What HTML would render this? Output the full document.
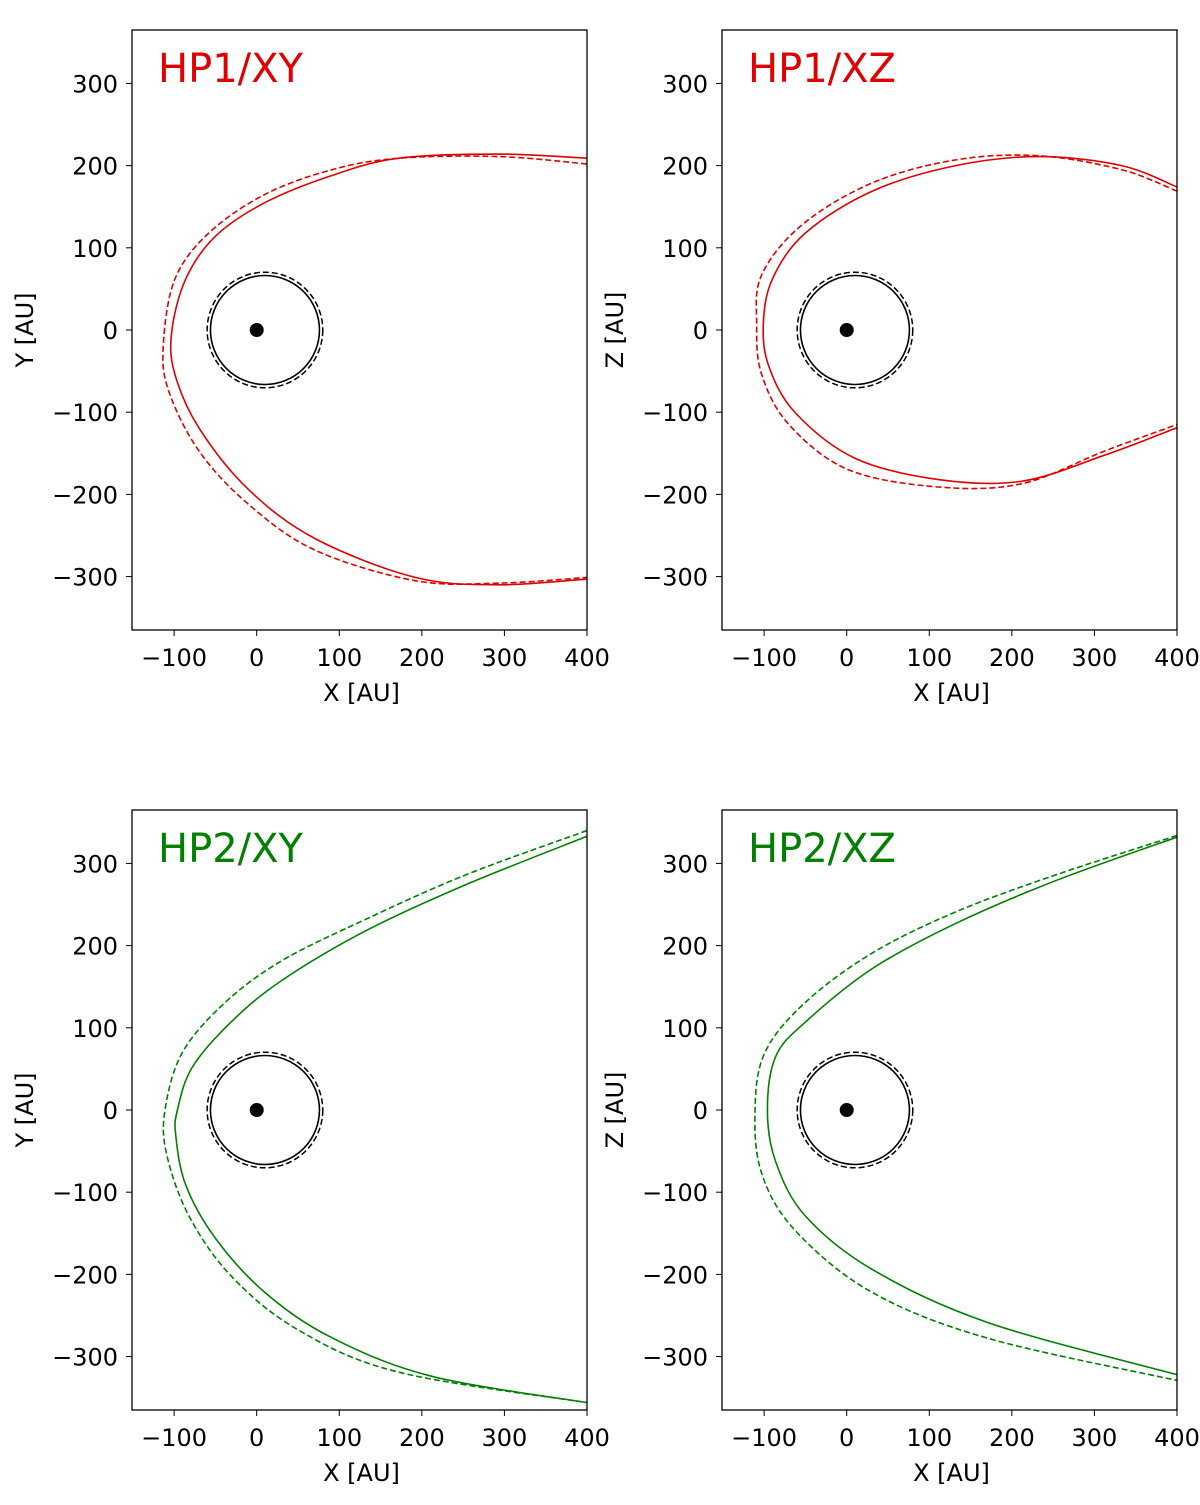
<!DOCTYPE html>
<html><head><meta charset="utf-8"><style>
body{margin:0;background:#fff;width:1200px;height:1500px;overflow:hidden}
svg text{font-family:"DejaVu Sans","Liberation Sans",sans-serif}
</style></head><body>
<svg id="fig" width="1200" height="1500" xmlns="http://www.w3.org/2000/svg"></svg>
<script>
// ---- data ----
const xTicks=[-100,0,100,200,300,400];
const yTicks=[-300,-200,-100,0,100,200,300];
const hp1xySolid=[[400,209],[293,214],[172,209],[91,188],[10,155],[-50,114],[-86,62],[-103,-3],[-99,-54],[-70,-119],[-10,-194],[71,-254],[192,-301],[293,-310],[400,-303]];
const hp1xyDash=[[400,202],[293,211],[172,209],[91,195],[10,165],[-58,118],[-99,62],[-113,-17],[-107,-73],[-70,-147],[-10,-212],[71,-268],[192,-305],[293,-308],[400,-301]];
const hp1xzSolid=[[400,174],[333,200],[233,211],[132,200],[31,169],[-50,118],[-90,62],[-101,6],[-94,-45],[-62,-101],[10,-156],[111,-182],[212,-184],[313,-152],[400,-119]];
const hp1xzDash=[[400,169],[333,195],[233,212],[132,207],[31,179],[-54,128],[-103,67],[-109,6],[-103,-54],[-70,-115],[2,-170],[111,-191],[212,-187],[313,-147],[400,-115]];
const hp2xySolid=[[400,333],[253,274],[132,218],[31,158],[-30,108],[-78,52],[-96,0],[-98,-31],[-86,-91],[-50,-156],[10,-222],[91,-277],[212,-324],[400,-356]];
const hp2xyDash=[[400,340],[253,286],[132,232],[31,182],[-38,131],[-90,70],[-111,0],[-109,-54],[-82,-129],[-30,-203],[51,-268],[172,-319],[400,-356]];
const hp2xzSolid=[[400,332],[253,279],[132,227],[31,172],[-50,107],[-86,65],[-96,0],[-86,-63],[-50,-129],[31,-194],[172,-259],[400,-322]];
const hp2xzDash=[[400,334],[253,286],[132,241],[31,191],[-50,131],[-99,70],[-111,0],[-103,-77],[-62,-147],[31,-222],[172,-278],[400,-329]];
const tsCenter=[10,0];
const tsRadiusSolid=[66];
const tsRadiusDash=[70];
const panels=[
 {title:"HP1/XY",ylab:"Y [AU]",color:"#e00000",left:132,top:30,solid:hp1xySolid,dash:hp1xyDash,name:"hp1-xy"},
 {title:"HP1/XZ",ylab:"Z [AU]",color:"#e00000",left:722,top:30,solid:hp1xzSolid,dash:hp1xzDash,name:"hp1-xz"},
 {title:"HP2/XY",ylab:"Y [AU]",color:"#008000",left:132,top:810,solid:hp2xySolid,dash:hp2xyDash,name:"hp2-xy"},
 {title:"HP2/XZ",ylab:"Z [AU]",color:"#008000",left:722,top:810,solid:hp2xzSolid,dash:hp2xzDash,name:"hp2-xz"}];
const NS="http://www.w3.org/2000/svg";
const svg=document.getElementById('fig');
function mk(t,a,p){const e=document.createElementNS(NS,t);for(const k in a)e.setAttribute(k,a[k]);(p||svg).appendChild(e);return e;}
function path(pts){let d=`M${pts[0][0]},${pts[0][1]}`;for(let i=0;i<pts.length-1;i++){const p0=pts[Math.max(0,i-1)],p1=pts[i],p2=pts[i+1],p3=pts[Math.min(pts.length-1,i+2)];
d+=` C${p1[0]+(p2[0]-p0[0])/6},${p1[1]+(p2[1]-p0[1])/6} ${p2[0]-(p3[0]-p1[0])/6},${p2[1]-(p3[1]-p1[1])/6} ${p2[0]},${p2[1]}`;}return d;}
const W=455,H=600,XMIN=-151,XMAX=400,YMIN=-365,YMAX=365;
panels.forEach(P=>{
 const g=mk('g',{});
 
 
 const sx=v=>P.left+(v-XMIN)/(XMAX-XMIN)*W, sy=v=>P.top+(YMAX-v)/(YMAX-YMIN)*H;
 const cid='c'+P.name;const cp=mk('clipPath',{id:cid},g);mk('rect',{x:P.left,y:P.top,width:W,height:H},cp);
 const pl=mk('g',{'clip-path':`url(#${cid})`},g);
 const toPts=a=>a.map(p=>[sx(p[0]),sy(p[1])]);
 let e=mk('path',{d:path(toPts(P.dash)),fill:'none',stroke:P.color,'stroke-width':1.6,'stroke-dasharray':'6,3'},pl);
 
 e=mk('path',{d:path(toPts(P.solid)),fill:'none',stroke:P.color,'stroke-width':1.6},pl);
 
 const k=W/(XMAX-XMIN);
 e=mk('circle',{cx:sx(tsCenter[0]),cy:sy(tsCenter[1]),r:tsRadiusDash[0]*k,fill:'none',stroke:'#000','stroke-width':1.5,'stroke-dasharray':'6,3'},pl);
 
 e=mk('circle',{cx:sx(tsCenter[0]),cy:sy(tsCenter[1]),r:tsRadiusSolid[0]*k,fill:'none',stroke:'#000','stroke-width':1.6},pl);
 
 e=mk('circle',{cx:sx(0),cy:sy(0),r:7,fill:'#000'},pl);
 
 e=mk('rect',{x:P.left,y:P.top,width:W,height:H,fill:'none',stroke:'#000','stroke-width':1.3},g);
 
 xTicks.forEach(t=>{const x=sx(t);mk('line',{x1:x,x2:x,y1:P.top+H,y2:P.top+H+6,stroke:'#000'},g);
  const tx=mk('text',{x:x,y:P.top+H+36,'font-size':24,'text-anchor':'middle'},g);tx.textContent=t<0?'\u2212'+(-t):t;
  });
 yTicks.forEach(t=>{const y=sy(t);mk('line',{x1:P.left-6,x2:P.left,y1:y,y2:y,stroke:'#000'},g);
  const tx=mk('text',{x:P.left-14,y:y+9,'font-size':24,'text-anchor':'end'},g);tx.textContent=t<0?'\u2212'+(-t):t;
  });
 let tx=mk('text',{x:P.left+W/2+2,y:P.top+H+71,'font-size':24,'text-anchor':'middle'},g);tx.textContent='X [AU]';
 
 tx=mk('text',{x:0,y:0,'font-size':24,'text-anchor':'middle',transform:`translate(${P.left-99},${P.top+H/2}) rotate(-90)`},g);tx.textContent=P.ylab;
 
 tx=mk('text',{x:P.left+26,y:P.top+52,'font-size':40,fill:P.color},g);tx.textContent=P.title;
 
});
</script>
</body></html>
